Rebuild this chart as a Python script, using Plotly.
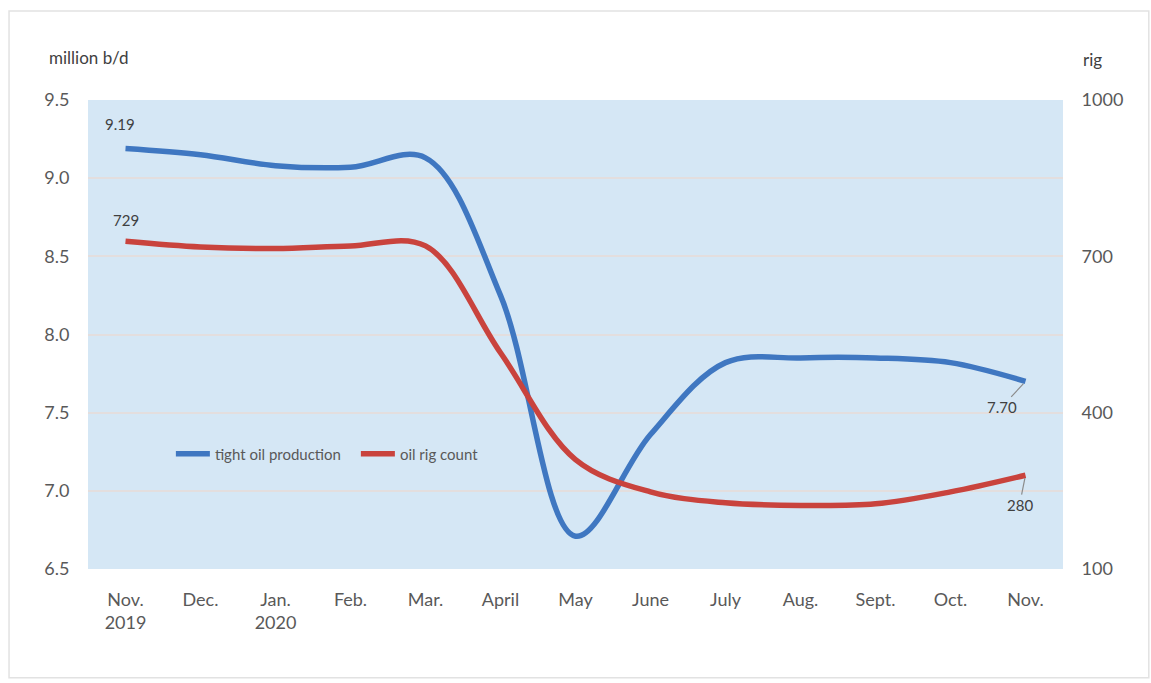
import plotly.graph_objects as go

# Monthly tight oil output (million b/d) and oil rig count, Nov 2019 - Nov 2020
months = ["Nov.<br>2019", "Dec.", "Jan.<br>2020", "Feb.", "Mar.", "April", "May",
          "June", "July", "Aug.", "Sept.", "Oct.", "Nov."]
tight_oil = [9.19, 9.15, 9.08, 9.07, 9.13, 8.25, 6.71, 7.36, 7.82, 7.85, 7.85, 7.82, 7.70]
rig_count = [729, 718, 715, 720, 720, 515, 310, 248, 227, 222, 225, 248, 280]

left_ticks = [6.5, 7.0, 7.5, 8.0, 8.5, 9.0, 9.5]
left_labels = ["6.5", "7.0", "7.5", "8.0", "8.5", "9.0", "9.5"]
right_ticks = [100, 400, 700, 1000]

FONT = "Lato, Open Sans, sans-serif"
TXT = "#595959"
BLUE = "#3f77c1"
RED = "#c9433d"

xs = list(range(len(months)))

fig = go.Figure()
fig.add_trace(go.Scatter(
    x=xs, y=tight_oil, name="tight oil production", mode="lines",
    line=dict(color=BLUE, width=5.5, shape="spline", smoothing=1.0),
))
fig.add_trace(go.Scatter(
    x=xs, y=rig_count, name="oil rig count", mode="lines", yaxis="y2",
    line=dict(color=RED, width=5.5, shape="spline", smoothing=1.0),
))

# value labels at the ends of each series
fig.add_annotation(x=xs[0], y=tight_oil[0], text=f"{tight_oil[0]:.2f}", showarrow=False,
                   xshift=-6, yshift=24, font=dict(family=FONT, size=15, color="#404040"))
fig.add_annotation(x=xs[0], y=rig_count[0], yref="y2", text=f"{rig_count[0]}", showarrow=False,
                   xshift=0, yshift=21, font=dict(family=FONT, size=15, color="#404040"))
fig.add_annotation(x=xs[-1], y=tight_oil[-1], text=f"{tight_oil[-1]:.2f}", showarrow=True,
                   arrowhead=0, arrowwidth=1.2, arrowcolor="#8c8c8c", ax=-24, ay=26,
                   standoff=3, font=dict(family=FONT, size=15, color="#404040"))
fig.add_annotation(x=xs[-1], y=rig_count[-1], yref="y2", text=f"{rig_count[-1]}", showarrow=True,
                   arrowhead=0, arrowwidth=1.2, arrowcolor="#8c8c8c", ax=-6, ay=30,
                   standoff=3, font=dict(family=FONT, size=15, color="#404040"))

# axis unit captions
fig.add_annotation(xref="paper", yref="paper", x=0.001, y=1.0, yshift=43, text="million b/d",
                   showarrow=False, xanchor="center", yanchor="middle",
                   font=dict(family=FONT, size=17, color="#404040"))
fig.add_annotation(xref="paper", yref="paper", x=1.03, y=1.0, yshift=41, text="rig",
                   showarrow=False, xanchor="center", yanchor="middle",
                   font=dict(family=FONT, size=17, color="#404040"))

# outer card border
fig.add_shape(type="rect", xref="paper", yref="paper", x0=-0.081, x1=1.088, y0=-0.232, y1=1.19,
              line=dict(color="#e2e2e2", width=1.5), fillcolor="rgba(0,0,0,0)", layer="below")

fig.update_layout(
    width=1151, height=683,
    margin=dict(l=88, r=88, t=100, b=114),
    paper_bgcolor="white",
    plot_bgcolor="#d5e7f5",
    font=dict(family=FONT, color=TXT),
    showlegend=True,
    legend=dict(orientation="h", x=0.085, y=0.245, xanchor="left", yanchor="middle",
                bgcolor="rgba(0,0,0,0)", font=dict(family=FONT, size=15, color=TXT),
                itemwidth=34, entrywidth=136, entrywidthmode="pixels"),
    xaxis=dict(
        range=[-0.5, 12.5], tickvals=xs, ticktext=months, showgrid=False, zeroline=False,
        ticks="outside", ticklen=14, tickcolor="rgba(0,0,0,0)",
        tickfont=dict(family=FONT, size=18, color=TXT), showline=False,
    ),
    yaxis=dict(
        range=[6.5, 9.5], tickvals=left_ticks, ticktext=left_labels,
        showgrid=True, gridcolor="#e3dede", gridwidth=2, zeroline=False,
        ticks="outside", ticklen=14, tickcolor="rgba(0,0,0,0)",
        tickfont=dict(family=FONT, size=18, color=TXT),
    ),
    yaxis2=dict(
        range=[100, 1000], tickvals=right_ticks, overlaying="y", side="right",
        showgrid=False, zeroline=False,
        ticks="outside", ticklen=14, tickcolor="rgba(0,0,0,0)",
        tickfont=dict(family=FONT, size=18, color=TXT),
    ),
)

fig.write_html("out.html")
